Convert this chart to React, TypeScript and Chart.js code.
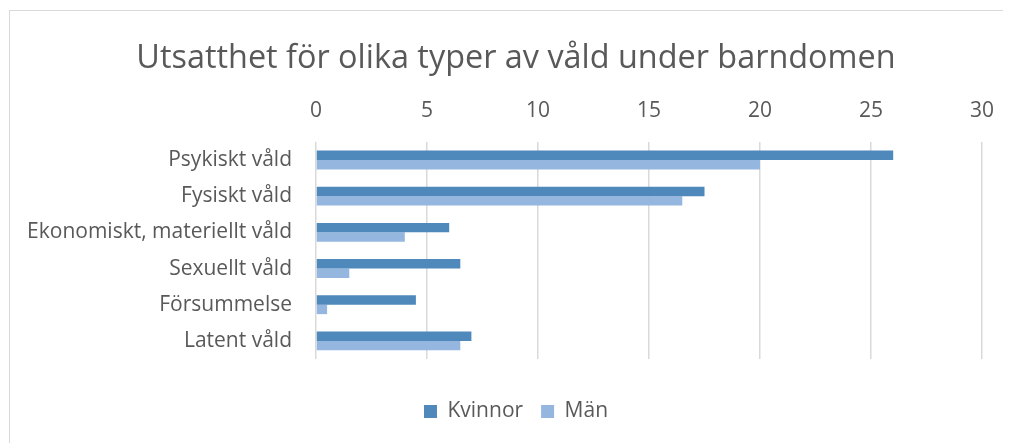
import React, { useEffect, useRef } from "react";
import { Chart, registerables } from "chart.js";

Chart.register(...registerables);

const categories = [
  "Psykiskt våld",
  "Fysiskt våld",
  "Ekonomiskt, materiellt våld",
  "Sexuellt våld",
  "Försummelse",
  "Latent våld",
];
const kvinnor = [26, 17.5, 6, 6.5, 4.5, 7];
const man = [20, 16.5, 4, 1.5, 0.5, 6.5];
const titleText = "Utsatthet för olika typer av våld under barndomen";
const FONT = "'Open Sans', sans-serif";

export default function App() {
  const ref = useRef<HTMLCanvasElement>(null);
  useEffect(() => {
    document.documentElement.style.overflow = "hidden";
    document.body.style.overflow = "hidden";
    if (!ref.current) return;
    const chart = new Chart(ref.current, {
      type: "bar",
      data: {
        labels: categories,
        datasets: [
          { label: "Kvinnor", data: kvinnor, backgroundColor: "#4f88bb", borderWidth: 0 },
          { label: "Män", data: man, backgroundColor: "#95b7df", borderWidth: 0 },
        ],
      },
      options: {
        indexAxis: "y",
        animation: false,
        responsive: false,
        maintainAspectRatio: false,
        datasets: { bar: { categoryPercentage: 0.52, barPercentage: 1 } },
        layout: { padding: { left: 0, right: 0, top: 0, bottom: 19 } },
        plugins: {
          title: {
            display: true,
            text: titleText,
            color: "#595959",
            font: { family: FONT, size: 32.4, weight: "normal" },
            padding: { top: 28, bottom: 0 },
          },
          legend: {
            position: "bottom",
            labels: {
              color: "#595959",
              font: { family: FONT, size: 21 },
              boxWidth: 13,
              boxHeight: 13,
              padding: 18,
            },
          },
          tooltip: { enabled: false },
        },
        scales: {
          x: {
            position: "top",
            min: 0,
            max: 30,
            ticks: {
              stepSize: 5,
              color: "#595959",
              font: { family: FONT, size: 21 },
              padding: 18,
            },
            grid: { color: "#d9d9d9", lineWidth: 1.5, drawTicks: false },
            border: { display: false },
            afterFit: (scale: any) => {
              scale.height = 64;
            },
          },
          x2: {
            position: "bottom",
            display: true,
            ticks: { display: false },
            grid: { display: false },
            border: { display: false },
            afterFit: (scale: any) => {
              scale.height = 24;
            },
          },
          y: {
            ticks: {
              color: "#595959",
              font: { family: FONT, size: 21 },
              padding: 16,
            },
            grid: { display: false },
            border: { display: false },
            afterFit: (scale: any) => {
              scale.width = 306;
            },
          },
          y2: {
            position: "right",
            display: true,
            ticks: { display: false },
            grid: { display: false },
            border: { display: false },
            afterFit: (scale: any) => {
              scale.width = 40;
            },
          },
        },
      },
    });
    return () => chart.destroy();
  }, []);
  return (
    <div
      style={{
        marginLeft: 1,
        marginTop: 2,
        width: 1013,
        height: 460,
        borderTop: "1px solid #d9d9d9",
        borderLeft: "1px solid #d9d9d9",
        boxSizing: "border-box",
        background: "#fff",
      }}
    >
      <canvas ref={ref} width={1012} height={440} style={{ display: "block" }} />
    </div>
  );
}
